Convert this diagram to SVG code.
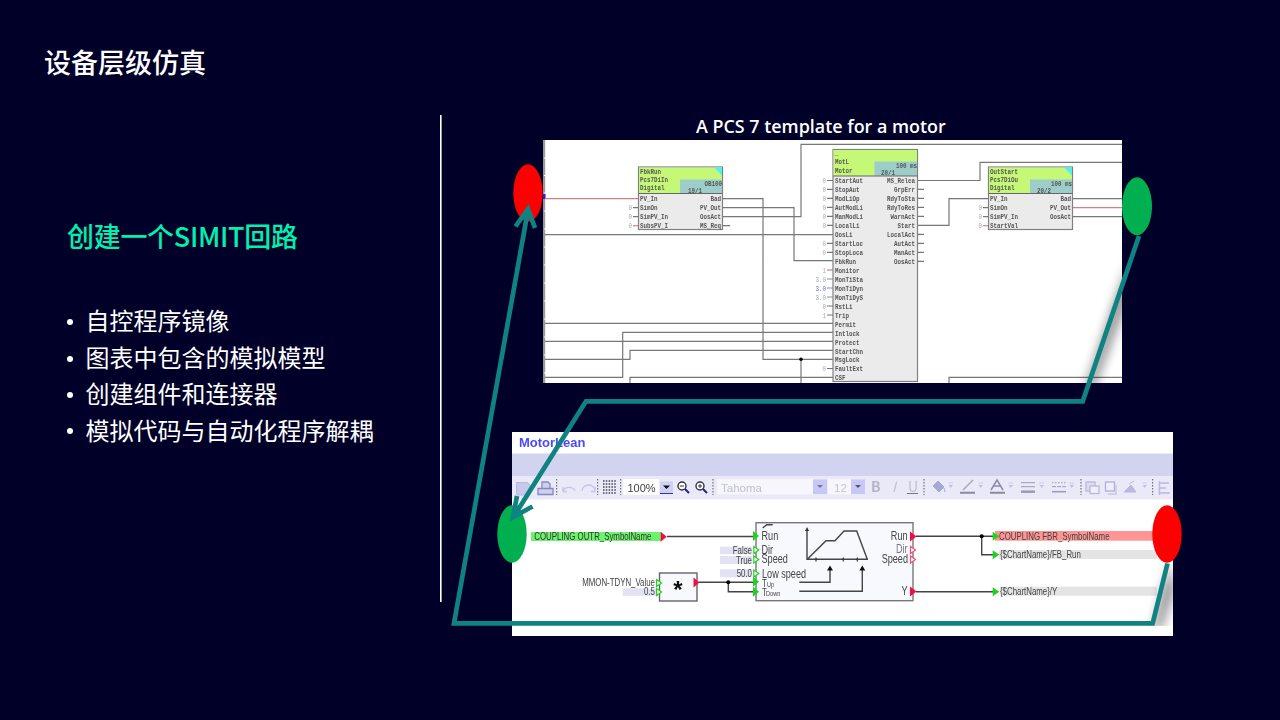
<svg xmlns="http://www.w3.org/2000/svg" width="1280" height="720" viewBox="0 0 1280 720">
<defs>
<filter id="blur" x="-150%" y="-50%" width="400%" height="200%"><feGaussianBlur stdDeviation="6"/></filter>
<filter id="soft" x="-2%" y="-2%" width="104%" height="104%"><feGaussianBlur stdDeviation="0.4"/></filter>
<clipPath id="topClip"><rect x="543" y="140" width="579" height="243"/></clipPath>
<clipPath id="botClip"><rect x="512" y="432" width="661" height="194"/></clipPath>
</defs>
<style>
text{font-family:"Noto Sans CJK SC","Noto Sans",sans-serif}
.bul{font-size:24px;fill:#fff}
.w{fill:none;stroke:#777;stroke-width:1.2}
.r{fill:none;stroke:#d08080;stroke-width:1.2}
.b{fill:none;stroke:#8888cc;stroke-width:1.2}
.g,.ge,.gn{fill:#555;font-family:"Liberation Mono",monospace;font-size:7.6px;transform-box:fill-box;transform:scaleX(.77);font-weight:700}
.g{transform-origin:0 50%}
.ge{text-anchor:end;transform-origin:100% 50%}
.gn{fill:#aaa;text-anchor:end;transform-origin:100% 50%;font-weight:400}
.hd{fill:#c6f878}
.tl{fill:#9ccdc8}
.bd{fill:#ebebeb;stroke:#808080;stroke-width:1.2}
.t,.te{fill:#444;font-family:"Liberation Sans",sans-serif;font-size:10.5px;transform-box:fill-box;transform:scaleX(.75)}
.t{transform-origin:0 50%}
.te{text-anchor:end;transform-origin:100% 50%}
.big{font-size:12px;fill:#444;transform:scaleX(.76)}
.s{fill:#e2e2f4}
.k{fill:none;stroke:#444;stroke-width:1.4}
.gp{fill:#1bd41b}
.gh{fill:#fff;stroke:#1bd41b;stroke-width:1.2}
.rp{fill:#f01040}
.rh{fill:#fff;stroke:#f05070;stroke-width:1.2}
.c{fill:none;stroke:#0f8282;stroke-width:4.7;stroke-linejoin:miter}
.i{fill:none;stroke:#a8a8d4;stroke-width:1.4}
.d{fill:#c0c0e8}
.sep{stroke:#556;stroke-width:1;stroke-dasharray:1.5 1.5}
</style>
<rect width="1280" height="720" fill="#000028"/>
<text x="44" y="73" font-size="27" font-weight="500" fill="#fff">设备层级仿真</text>
<text x="67" y="247" font-size="27" font-weight="500" fill="#00f0b0" textLength="231">创建一个SIMIT回路</text>
<g>
<circle cx="70" cy="322" r="3" fill="#fff"/><text class="bul" x="85.500" y="330">自控程序镜像</text>
<circle cx="70" cy="359" r="3" fill="#fff"/><text class="bul" x="85.500" y="367">图表中包含的模拟模型</text>
<circle cx="70" cy="395" r="3" fill="#fff"/><text class="bul" x="85.500" y="403">创建组件和连接器</text>
<circle cx="70" cy="431" r="3" fill="#fff"/><text class="bul" x="85.500" y="440">模拟代码与自动化程序解耦</text>
</g>
<rect x="440" y="115" width="1.6" height="487" fill="#fff"/>
<text x="696" y="133" font-size="17.9" fill="#fff" style="font-family:'Open Sans','Noto Sans',sans-serif;font-weight:600">A PCS 7 template for a motor</text>

<g id="panel-top" filter="url(#soft)">
<rect x="543" y="140" width="579" height="243" fill="#fff"/>
<rect x="543" y="140" width="2.2" height="243" fill="#999"/>
<path d="M545.500 158h-1.500M545.500 175.500h-1.500M545.500 193h-1.500M545.500 211h-1.500M545.500 229h-1.500M545.500 247h-1.500M545.500 265h-1.500M545.500 283h-1.500M545.500 301h-1.500M545.500 319h-1.500M545.500 337h-1.500M545.500 355h-1.500M545.500 373h-1.500" stroke="#fff" stroke-width="1"/>
<rect x="543" y="194" width="2.500" height="5" fill="#2020e0"/>
<g clip-path="url(#topClip)">
<path class="r" d="M545 198.700H638"/>
<path class="w" d="M545 234.700H833M722 198.700H763V359.300H833M722 207.700H794V260.700H833M722 216.700H801V144.300H1122M545 323.300H833M833 332.300H622.700V377.300H545M545 341.300H833M833 350.300H630V359.300H545M630 383V377.300H833M801 359.300V383M917 180.500H980V162.300H1122M917 225.300H949V198.700H988M1072 198.700H1122M1072 216.700H1122M949 383V377.300H1122"/>
<path class="r" d="M1072 207.700H1122"/>
<circle cx="801" cy="359.300" r="1.800" fill="#000"/>
</g>
</g>

<g id="block-fbkrun" filter="url(#soft)">
<rect class="bd" x="638.500" y="167" width="84" height="62.500"/>
<rect class="hd" x="639" y="167.500" width="83" height="26"/>
<rect class="tl" x="680" y="179.500" width="42" height="14"/>
<path d="M714 167.500h8v8z" fill="#50f0f0"/>
<path d="M638.500 193.500h84" stroke="#666" stroke-width="1"/>
<text class="g" x="640" y="174.500">FbkRun</text><text class="g" x="640" y="182.500">Pcs7DiIn</text><text class="g" x="640" y="190.500">Digital</text>
<text class="ge" x="722" y="186">OB100</text><text class="g" x="688" y="193.500">19/1</text>
<text class="g" x="640" y="201.500">PV_In</text><text class="g" x="640" y="210.500">SimOn</text><text class="g" x="640" y="219.500">SimPV_In</text><text class="g" x="640" y="228.500">SubsPV_I</text>
<text class="ge" x="721" y="201.500">Bad</text><text class="ge" x="721" y="210.500">PV_Out</text><text class="ge" x="721" y="219.500">OosAct</text><text class="ge" x="721" y="228.500">MS_Req</text>
<path class="w" d="M633 207.700h5M633 216.700h5M722 225.700h8"/><path class="r" d="M633 225.700h5"/>
<text class="gn" x="632" y="210.500">0</text><text class="gn" x="632" y="219.500">0</text><text class="gn" x="632" y="228.500">0</text>
</g>

<g id="block-motor" filter="url(#soft)">
<rect class="bd" x="833" y="149.500" width="84.500" height="232"/>
<rect class="hd" x="833.500" y="150" width="83.500" height="26"/>
<rect class="tl" x="874.500" y="161.500" width="42.500" height="14.500"/>
<path d="M833 176h84.500" stroke="#666" stroke-width="1"/>
<text class="g" x="835" y="155.500">_</text><text class="g" x="835" y="164.500">MotL</text><text class="g" x="835" y="173">Motor</text>
<text class="ge" x="917" y="168">100 ms</text><text class="g" x="881" y="175.500">20/1</text>
<g>
<text class="g" x="835" y="183">StartAut</text><text class="g" x="835" y="192">StopAut</text><text class="g" x="835" y="201">ModLiOp</text><text class="g" x="835" y="210">AutModLi</text><text class="g" x="835" y="219">ManModLi</text><text class="g" x="835" y="228">LocalLi</text><text class="g" x="835" y="237">OosLi</text><text class="g" x="835" y="246">StartLoc</text><text class="g" x="835" y="255">StopLoca</text><text class="g" x="835" y="264">FbkRun</text><text class="g" x="835" y="273">Monitor</text><text class="g" x="835" y="282">MonTiSta</text><text class="g" x="835" y="291">MonTiDyn</text><text class="g" x="835" y="300">MonTiDyS</text><text class="g" x="835" y="309">RstLi</text><text class="g" x="835" y="318">Trip</text><text class="g" x="835" y="327">Permit</text><text class="g" x="835" y="336">Intlock</text><text class="g" x="835" y="345">Protect</text><text class="g" x="835" y="354">StartChn</text><text class="g" x="835" y="362.500">MsgLock</text><text class="g" x="835" y="371.500">FaultExt</text><text class="g" x="835" y="380.500">CSF</text>
<text class="ge" x="915" y="183">MS_Relea</text><text class="ge" x="915" y="192">GrpErr</text><text class="ge" x="915" y="201">RdyToSta</text><text class="ge" x="915" y="210">RdyToRes</text><text class="ge" x="915" y="219">WarnAct</text><text class="ge" x="915" y="228">Start</text><text class="ge" x="915" y="237">LocalAct</text><text class="ge" x="915" y="246">AutAct</text><text class="ge" x="915" y="255">ManAct</text><text class="ge" x="915" y="264">OosAct</text>
</g>
<path class="w" d="M827 180.500h6M827 189.300h6M827 198.300h6M827 207.300h6M827 216.300h6M827 225.300h6M827 243.300h6M827 252.300h6M827 306h6M827 315h6M827 368.500h6M917 189.300h7M917 198.300h7M917 207.300h7M917 216.300h7M917 234.300h7M917 243.300h7M917 252.300h7M917 261.300h7"/>
<path class="r" d="M827 270h6"/><path class="b" d="M827 279h6M827 288h6M827 297h6"/>
<g>
<text class="gn" x="826" y="183">0</text><text class="gn" x="826" y="192">0</text><text class="gn" x="826" y="201">0</text><text class="gn" x="826" y="210">0</text><text class="gn" x="826" y="219">0</text><text class="gn" x="826" y="228">0</text><text class="gn" x="826" y="246">0</text><text class="gn" x="826" y="255">0</text><text class="gn" x="826" y="273">1</text><text class="gn" x="826" y="282">3.0</text><text class="gn" x="826" y="291" style="fill:#6a6af0">3.0</text><text class="gn" x="826" y="300">3.0</text><text class="gn" x="826" y="309">0</text><text class="gn" x="826" y="318">1</text><text class="gn" x="826" y="371.500">0</text>
</g>
</g>

<g id="block-outstart" filter="url(#soft)">
<rect class="bd" x="988.500" y="167" width="84" height="62.500"/>
<rect class="hd" x="989" y="167.500" width="83" height="26"/>
<rect class="tl" x="1030" y="179.500" width="42" height="14"/>
<path d="M1064 167.500h8v8z" fill="#50f0f0"/>
<path d="M988.500 193.500h84" stroke="#666" stroke-width="1"/>
<text class="g" x="990" y="174.500">OutStart</text><text class="g" x="990" y="182.500">Pcs7DiOu</text><text class="g" x="990" y="190.500">Digital</text>
<text class="ge" x="1072" y="186">100 ms</text><text class="g" x="1037" y="193.500">20/2</text>
<text class="g" x="990" y="201.500">PV_In</text><text class="g" x="990" y="210.500">SimOn</text><text class="g" x="990" y="219.500">SimPV_In</text><text class="g" x="990" y="228.500">StartVal</text>
<text class="ge" x="1071" y="201.500">Bad</text><text class="ge" x="1071" y="210.500">PV_Out</text><text class="ge" x="1071" y="219.500">OosAct</text>
<path class="w" d="M983 207.700h5M983 216.700h5"/><path class="r" d="M983 225.700h5"/>
<text class="gn" x="982" y="210.500">0</text><text class="gn" x="982" y="219.500">0</text><text class="gn" x="982" y="228.500">0</text>
</g>

<g id="panel-bottom" filter="url(#soft)">
<rect x="512" y="432" width="661" height="204" fill="#fff"/>
<rect x="512" y="453.500" width="661" height="22.500" fill="#d2d3f0"/>
<rect x="512" y="476" width="661" height="23.500" fill="#e9e9f8"/>
<text x="519" y="447" font-size="13" font-weight="700" fill="#4a4aff" style="font-family:'Liberation Sans',sans-serif">MotorLean</text>
<path d="M516.500 482.500h11l2.500 2.500v10h-13.500z" fill="#c8c8ec" stroke="#b8b8e4"/>
<path d="M538 494.500h15v-6h-15zM542 488v-6h6l2 2v4" fill="#d0d0ee" stroke="#8888c0" stroke-width="1.300"/>
<path d="M563 491a6.500 6 0 0 1 12 0M563 487v4.500h4M595 491a6.500 6 0 0 0-13 0M595 487v4.500h-4" fill="none" stroke="#c4c4e4" stroke-width="1.300"/>
<path class="sep" d="M556.700 479v16M597.700 479v16M620.700 479v16M713 479v16M924 479v16M1081 479v16M1152.700 479v16"/>
<path d="M603 481h14M603 484h14M603 487h14M603 490h14M603 493h14" fill="none" stroke="#445" stroke-width="1.300" stroke-dasharray="1.500 1.300"/>
<rect x="623" y="479" width="36" height="16" fill="#fff"/>
<text x="627.500" y="492" font-size="11" fill="#444" style="font-family:'Liberation Sans',sans-serif">100%</text>
<rect x="660" y="481.500" width="13" height="11.500" fill="#d0d0f4"/><path d="M660 493.500h13" stroke="#3030c0"/><path d="M663 485.500h7l-3.500 3.500z" fill="#111"/>
<circle cx="682" cy="486" r="4" fill="#fff" stroke="#334" stroke-width="1.400"/><path d="M685 489l4 4" stroke="#228" stroke-width="2"/><path d="M680 486h4" stroke="#334"/>
<circle cx="700" cy="486" r="4" fill="#fff" stroke="#334" stroke-width="1.400"/><path d="M703 489l4 4" stroke="#228" stroke-width="2"/><path d="M698 486h4M700 484v4" stroke="#334"/>
<rect x="717" y="479" width="96" height="15.500" fill="#f6f6fc"/>
<text x="721" y="492" font-size="11.500" fill="#c0c0c8" style="font-family:'Liberation Sans',sans-serif">Tahoma</text>
<rect x="813" y="479.500" width="14" height="14.500" fill="#c8c8f8"/><path d="M817 485h6l-3 3z" fill="#778"/>
<rect x="828" y="479" width="23" height="15.500" fill="#f6f6fc"/>
<text x="834" y="492" font-size="11.500" fill="#c8c8c8" style="font-family:'Liberation Sans',sans-serif">12</text>
<rect x="851" y="479.500" width="14" height="14.500" fill="#c8c8f8"/><path d="M855 485h6l-3 3z" fill="#556"/>
<g font-size="14" style="font-family:'Liberation Sans',sans-serif"><text x="871" y="492" font-weight="700" fill="#b4b4c8">B</text><text x="892" y="492" font-style="italic" fill="#c0c0d0">I</text><text x="908" y="491.500" fill="#c0c0d4">U</text></g>
<path d="M907 493.500h11" stroke="#777"/>
<path d="M933 486l5-5 6 6-5 5zM944 488l1 4" fill="#a8a8d8" stroke="#a8a8d8"/>
<path d="M963 490l10-10" stroke="#a8a8b8" stroke-width="1.500"/><path d="M960 492.700h15M990 492.700h15" stroke="#8a8aa0" stroke-width="2"/>
<path d="M991 490l6-10 6 10M993.500 486h7" fill="none" stroke="#8a8ab0" stroke-width="1.500"/>
<path d="M1021 482.700h14M1021 486.700h14" stroke="#9a9ab8"/><path d="M1021 491.700h14" stroke="#9a9ab8" stroke-width="2.500"/>
<path d="M1052 482.700h14" stroke="#9a9ab8" stroke-dasharray="1.500 1.500"/><path d="M1052 486.700h14" stroke="#9a9ab8" stroke-dasharray="4 1"/><path d="M1052 491.700h14" stroke="#9a9ab8" stroke-width="1.500"/>
<path class="d" d="M948.500 485h4.500l-2.300 3zM978.500 485h4.500l-2.300 3zM1008.500 485h4.500l-2.300 3zM1039.500 485h4.500l-2.300 3zM1069.500 485h4.500l-2.300 3zM1142.500 485h4.500l-2.300 3z"/>
<path d="M948.500 483h4.500M978.500 483h4.500M1008.500 483h4.500M1039.500 483h4.500M1069.500 483h4.500M1142.500 483h4.500" stroke="#c0c0e8" stroke-width=".8"/>
<rect x="1086" y="482" width="9" height="9" fill="#dcdcf4" stroke="#b8b8d8" stroke-width="1.300"/><rect x="1090" y="486" width="9" height="7.500" fill="#eef" stroke="#b8b8d8" stroke-width="1.300"/>
<rect x="1105.500" y="482" width="9" height="9" fill="#eef" stroke="#b0b0e0" stroke-width="1.300"/><path d="M1116 485v9h-8" fill="none" stroke="#c8c8e4" stroke-width="1.500"/>
<path d="M1124 492h12l-5-7zM1129 484l5-3" fill="#b8b8e0" stroke="#b8b8e0"/>
<path d="M1159.500 481v14M1160 483h9M1160 488h6M1160 493h10" fill="none" stroke="#b8b8e4" stroke-width="1.500"/>
</g>

<g id="block-ramp" filter="url(#soft)">
<rect x="756" y="522.700" width="157" height="78" fill="#f8f8ff" stroke="#777" stroke-width="1.400"/>
<path class="k" d="M762.700 528l4-3.300h6M807 530v29.300H868M807.300 559.300L826 540.700H835L844 531H856.700L867.300 559.300"/>
<path d="M807 527l-2 4h4z" fill="#333"/>
<path d="M816 557.500v4M843.300 557.500v4M857.300 557.500v4" stroke="#333" stroke-width="1.200"/>
<path class="k" d="M799.300 582.300H830V569M799.300 591.300H862.300V569"/>
<path d="M830 565.500l-3 5h6zM862.300 565.500l-3 5h6z" fill="#111"/>
</g>

<g id="block-mult" filter="url(#soft)">
<rect x="659.500" y="573" width="37.500" height="28" fill="#f8f8ff" stroke="#666" stroke-width="1.400"/>
<text x="678" y="598" font-size="24" fill="#111" text-anchor="middle" style="font-family:'Liberation Sans',sans-serif;font-weight:700">*</text>
<rect x="622.700" y="588.300" width="33" height="7.500" class="s"/>
<text class="te" x="655" y="586.500">MMON-TDYN_Value</text>
<text class="te" x="655" y="595.500">0.5</text>
<path class="gh" d="M656.500 579.500l5 3.500-5 3.500zM656.500 588.500l5 3.500-5 3.500z"/>
<path class="rp" d="M693.500 577.500v10l6-5z"/>
</g>

<g id="labels-bottom" filter="url(#soft)">
<rect x="531" y="532" width="131" height="9" fill="#6cf36c"/>
<text class="t" x="534.300" y="540" style="fill:#333">COUPLING OUTR_SymbolName</text>
<path class="rp" d="M660.700 531.700v10l6-5z"/>
<rect x="720" y="546.700" width="32" height="7.600" class="s"/><rect x="720" y="556" width="32" height="8" class="s"/><rect x="720" y="569.300" width="32" height="8" class="s"/>
<text class="te" x="752" y="554">False</text><text class="te" x="752" y="564">True</text><text class="te" x="752" y="577.500">50.0</text>
<path class="gh" d="M753.800 546.500l5 3.500-5 3.500zM753.800 556l5 3.500-5 3.500zM753.800 570l5 3.500-5 3.500z"/>
<path class="gp" d="M753 531l6 5-6 5zM753 576.700l6 5-6 5zM753 586.700l6 5-6 5z"/>
<text class="t big" x="761.500" y="540">Run</text><text class="t big" x="761.500" y="554">Dir</text><text class="t big" x="761.500" y="563">Speed</text><text class="t big" x="762" y="578">Low speed</text><text class="t" x="762" y="587">T</text><text class="t" x="767" y="587.500" style="font-size:7.500px">Up</text><text class="t" x="762" y="596">T</text><text class="t" x="766" y="596.500" style="font-size:7.500px">Down</text>
<text class="te big" x="907.500" y="540">Run</text><text class="te big" x="907.500" y="553.500" style="fill:#777">Dir</text><text class="te big" x="908" y="563">Speed</text><text class="te big" x="907.500" y="595">Y</text>
<path class="rp" d="M910 531.500l6.500 5-6.500 5zM910 586.500l6.500 5-6.500 5z"/>
<path class="rh" d="M910.500 546.500l5 3.500-5 3.500zM910.500 556l5 3.500-5 3.500z"/>
<path d="M667 536.500H753M699 582.300H753M728.300 582.300V591.700H753M916 536.300H993M981.700 536.300V554.700H993M916 591.700H993" fill="none" stroke="#444" stroke-width="1.400"/>
<circle cx="728.300" cy="582.300" r="2" fill="#000"/><circle cx="981.700" cy="536.300" r="2" fill="#000"/>
<rect x="995" y="531" width="159" height="9.700" fill="#ff9494"/>
<rect x="999" y="550" width="158" height="9" fill="#e4e4e4"/>
<rect x="1000" y="586.700" width="157" height="9" fill="#e4e4e4"/>
<text class="t" x="999" y="540">COUPLING FBR_SymbolName</text>
<text class="t" x="1000" y="558">{$ChartName}/FB_Run</text>
<text class="t" x="1000" y="595">{$ChartName}/Y</text>
<path class="gp" d="M992.700 531.800l6.600 4.500-6.600 4.500zM992.700 550.200l6.600 4.500-6.600 4.500zM992.700 587.200l6.600 4.500-6.600 4.500z"/>
</g>

<g clip-path="url(#topClip)"><path d="M1130 262L1086 388L1093 388L1128 295Z" fill="#000" opacity=".6" filter="url(#blur)"/></g>
<g clip-path="url(#botClip)"><path d="M1171 562L1154 630L1160 630L1173 590Z" fill="#000" opacity=".6" filter="url(#blur)"/></g>

<g id="node-red-top"><ellipse cx="528" cy="193" rx="14.700" ry="28.800" fill="#ff0000"/></g>
<g id="node-green-top"><ellipse cx="1137" cy="206.300" rx="15" ry="29" fill="#00b050"/></g>
<g id="node-green-bottom"><ellipse cx="512" cy="534" rx="14.700" ry="28.800" fill="#00b050"/></g>
<g id="node-red-bottom"><ellipse cx="1167" cy="534" rx="14.700" ry="28.800" fill="#ff0000"/></g>

<g id="connectors">
<path class="c" d="M1167.500 563.500L1152.700 623.300H454L528 210M515.500 226.500L528 209L535 228"/>
<path class="c" d="M1139 236L1082.700 401.300H586L513.500 517M532.500 506.500L513 517L517 496"/>
</g>
</svg>
